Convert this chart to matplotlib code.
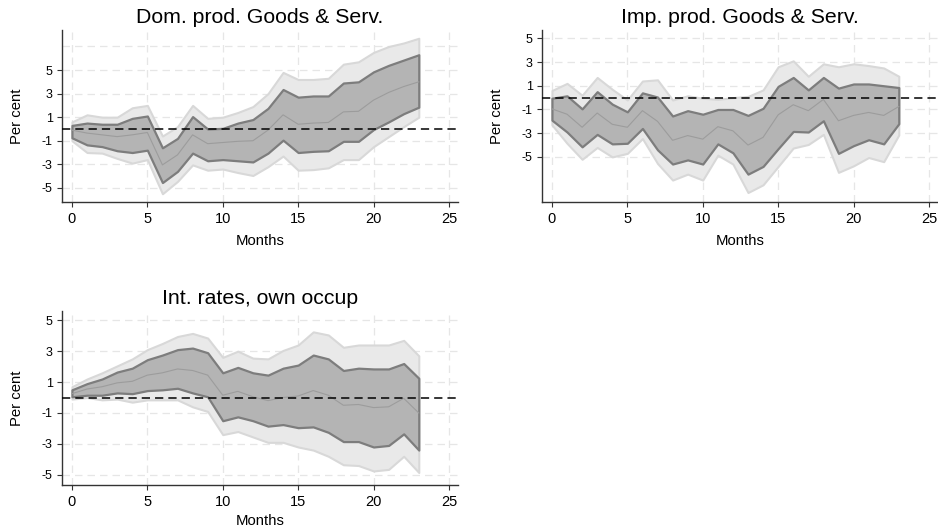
import matplotlib
matplotlib.use("Agg")
import matplotlib.pyplot as plt
import numpy as np

plt.rcParams['font.family'] = ['Liberation Sans', 'DejaVu Sans']

months = list(range(24))

# Panel 1: Dom. prod. Goods & Serv.
dom_outer_hi = [0.6, 1.2, 1.0, 1.0, 1.8, 2.0, -0.6, 0.2, 2.0, 0.9, 1.0, 1.4, 1.9, 3.0, 4.8, 4.2, 4.2, 4.3, 5.5, 5.7, 6.5, 7.0, 7.3, 7.7]
dom_inner_hi = [0.3, 0.5, 0.4, 0.4, 0.9, 1.1, -1.6, -0.8, 1.05, 0.0, 0.05, 0.5, 0.8, 1.75, 3.35, 2.7, 2.8, 2.8, 3.9, 4.0, 4.85, 5.4, 5.85, 6.3]
dom_median = [-0.1, -0.35, -0.5, -0.65, -0.5, -0.3, -3.05, -2.2, -0.5, -1.25, -1.15, -1.05, -1.0, -0.1, 1.2, 0.4, 0.5, 0.55, 1.45, 1.5, 2.45, 3.1, 3.6, 4.0]
dom_inner_lo = [-0.75, -1.35, -1.5, -1.85, -2.0, -1.8, -4.55, -3.6, -2.05, -2.7, -2.6, -2.7, -2.8, -2.05, -0.95, -2.0, -1.9, -1.85, -1.05, -1.05, -0.05, 0.6, 1.3, 1.85]
dom_outer_lo = [-1.0, -2.0, -2.05, -2.5, -2.9, -2.6, -5.5, -4.45, -3.05, -3.5, -3.4, -3.7, -3.95, -3.2, -2.3, -3.5, -3.45, -3.3, -2.6, -2.6, -1.5, -0.65, 0.2, 1.0]

# Panel 2: Imp. prod. Goods & Serv.
imp_outer_hi = [0.6, 1.2, 0.2, 1.7, 0.7, -0.2, 1.4, 1.5, -0.2, 0.15, -0.05, -0.15, 0.0, 0.1, 0.65, 2.6, 3.1, 1.8, 2.85, 2.6, 2.85, 2.7, 2.5, 1.8]
imp_inner_hi = [-0.05, 0.15, -0.95, 0.5, -0.55, -1.2, 0.4, 0.05, -1.55, -1.1, -1.4, -1.0, -1.0, -1.5, -0.9, 0.95, 1.7, 0.65, 1.7, 0.8, 1.15, 1.15, 1.0, 0.85]
imp_median = [-0.95, -1.4, -2.5, -1.3, -2.25, -2.5, -1.1, -2.0, -3.6, -3.2, -3.5, -2.45, -2.8, -4.0, -3.35, -1.45, -0.6, -1.1, -0.15, -1.95, -1.5, -1.25, -1.5, -0.75]
imp_inner_lo = [-1.9, -2.9, -4.15, -3.1, -3.9, -3.85, -2.6, -4.4, -5.6, -5.25, -5.6, -3.9, -4.65, -6.45, -5.8, -4.3, -2.85, -2.9, -1.95, -4.7, -4.05, -3.55, -3.9, -2.2]
imp_outer_lo = [-2.3, -3.85, -5.2, -4.2, -5.0, -4.7, -3.45, -5.55, -6.95, -6.45, -6.95, -4.85, -5.6, -8.0, -7.35, -5.8, -4.25, -3.95, -3.1, -6.3, -5.75, -5.05, -5.4, -3.15]

# Panel 3: Int. rates, own occup
int_outer_hi = [0.7, 1.2, 1.6, 2.05, 2.5, 3.1, 3.5, 3.95, 4.15, 3.85, 2.6, 3.0, 2.55, 2.5, 3.05, 3.4, 4.25, 4.05, 3.25, 3.4, 3.4, 3.4, 3.7, 2.7]
int_inner_hi = [0.5, 0.9, 1.2, 1.65, 1.9, 2.45, 2.75, 3.1, 3.2, 2.9, 1.6, 1.95, 1.6, 1.45, 1.9, 2.1, 2.75, 2.5, 1.75, 1.9, 1.85, 1.85, 2.2, 1.25]
int_median = [0.25, 0.55, 0.7, 0.95, 1.05, 1.45, 1.6, 1.85, 1.75, 1.45, 0.15, 0.4, 0.05, -0.2, 0.0, 0.1, 0.45, 0.15, -0.5, -0.45, -0.65, -0.6, -0.05, -1.0]
int_inner_lo = [0.05, 0.15, 0.15, 0.3, 0.25, 0.45, 0.5, 0.6, 0.3, 0.05, -1.5, -1.25, -1.5, -1.85, -1.75, -1.95, -1.9, -2.25, -2.85, -2.85, -3.2, -3.1, -2.35, -3.4]
int_outer_lo = [-0.1, 0.0, -0.15, -0.1, -0.3, -0.15, -0.15, -0.15, -0.6, -0.9, -2.4, -2.2, -2.55, -2.9, -2.9, -3.2, -3.4, -3.8, -4.35, -4.4, -4.75, -4.65, -3.8, -4.85]

titles = ["Dom. prod. Goods & Serv.", "Imp. prod. Goods & Serv.", "Int. rates, own occup"]
x_ticks = [0, 5, 10, 15, 20, 25]
y_ticks = [-5, -3, -1, 1, 3, 5]

W, H = 938, 530
fig = plt.figure(figsize=(W / 100, H / 100), dpi=100)

panels = [
    dict(rect=(62, 30, 458, 202), ylim=(-6.2, 8.4), extra_grid=[7], xpad=6,
         data=(dom_outer_lo, dom_outer_hi, dom_inner_lo, dom_inner_hi, dom_median)),
    dict(rect=(542, 30, 938, 202), ylim=(-8.8, 5.7), extra_grid=[], xpad=6,
         data=(imp_outer_lo, imp_outer_hi, imp_inner_lo, imp_inner_hi, imp_median)),
    dict(rect=(62, 311, 458, 485), ylim=(-5.66, 5.6), extra_grid=[], xpad=3.5,
         data=(int_outer_lo, int_outer_hi, int_inner_lo, int_inner_hi, int_median)),
]

for p, title in zip(panels, titles):
    l, t, r, b = p["rect"]
    ax = fig.add_axes([l / W, 1 - b / H, (r - l) / W, (b - t) / H])
    olo, ohi, ilo, ihi, med = p["data"]
    ax.set_xlim(-0.66, 25.6)
    ax.set_ylim(*p["ylim"])
    for gx in x_ticks:
        ax.axvline(gx, color='#e6e6e6', lw=0.9, ls=(0, (6, 4)), zorder=0)
    for gy in y_ticks + p["extra_grid"]:
        ax.axhline(gy, color='#e6e6e6', lw=0.9, ls=(0, (6, 4)), zorder=0)
    ax.fill_between(months, olo, ohi, facecolor='#e9e9e9', edgecolor='#d8d8d8', lw=1.5, zorder=1)
    ax.fill_between(months, ilo, ihi, facecolor='#b4b4b4', edgecolor='#7d7d7d', lw=1.6, zorder=2)
    ax.plot(months, med, color='#9c9c9c', lw=0.8, zorder=3)
    ax.axhline(0, color='black', lw=1.1, ls=(0, (5.4, 3.3)), zorder=4)
    ax.set_xticks(x_ticks)
    ax.set_yticks(y_ticks)
    ax.set_yticklabels([str(v) for v in y_ticks])
    ax.tick_params(axis='x', labelsize=10.5, length=3.6, width=0.8, color='#333333', pad=3.5)
    ax.tick_params(axis='y', labelsize=9, length=3.6, width=0.8, color='#333333', pad=3)
    for s in ['top', 'right']:
        ax.spines[s].set_visible(False)
    for s in ['left', 'bottom']:
        ax.spines[s].set_color('#333333')
        ax.spines[s].set_linewidth(1.0)
    ax.set_xlabel("Months", fontsize=10.7, labelpad=p["xpad"])
    ax.set_ylabel("Per cent", fontsize=10.7)
    ax.yaxis.set_label_coords(-0.096, 0.5)
    ax.set_title(title, fontsize=15.3, pad=5)

fig.savefig("out.png", dpi=100)
